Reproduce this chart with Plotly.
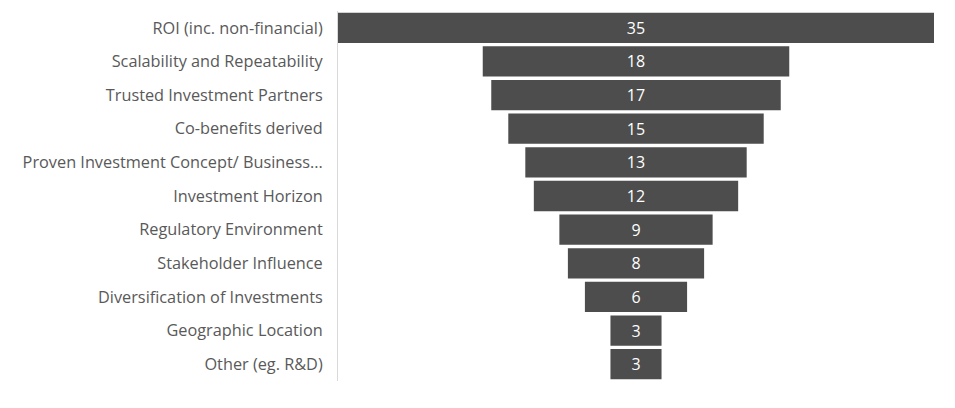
import plotly.graph_objects as go

categories = [
    "ROI (inc. non-financial)",
    "Scalability and Repeatability",
    "Trusted Investment Partners",
    "Co-benefits derived",
    "Proven Investment Concept/ Business...",
    "Investment Horizon",
    "Regulatory Environment",
    "Stakeholder Influence",
    "Diversification of Investments",
    "Geographic Location",
    "Other (eg. R&D)",
]
values = [35, 18, 17, 15, 13, 12, 9, 8, 6, 3, 3]

fig = go.Figure(
    go.Funnel(
        y=categories,
        x=values,
        textinfo="value",
        textposition="inside",
        insidetextfont=dict(color="white", size=16, family="Open Sans"),
        marker=dict(color="#4d4d4d", line=dict(width=0)),
        connector=dict(visible=False),
    )
)

fig.update_layout(
    width=947,
    height=400,
    margin=dict(l=330, r=21, t=3, b=27),
    paper_bgcolor="white",
    plot_bgcolor="white",
    funnelgap=0.1,
    showlegend=False,
    font=dict(family="Open Sans", size=16.3, color="#595959"),
)
fig.update_xaxes(visible=False, range=[-17.5, 17.5])
fig.update_yaxes(
    showline=True,
    linecolor="#d9d9d9",
    linewidth=1,
    showgrid=False,
    ticklabelstandoff=11,
    tickfont=dict(size=16.3, color="#595959", family="Open Sans"),
)

fig.write_html("out.html")
